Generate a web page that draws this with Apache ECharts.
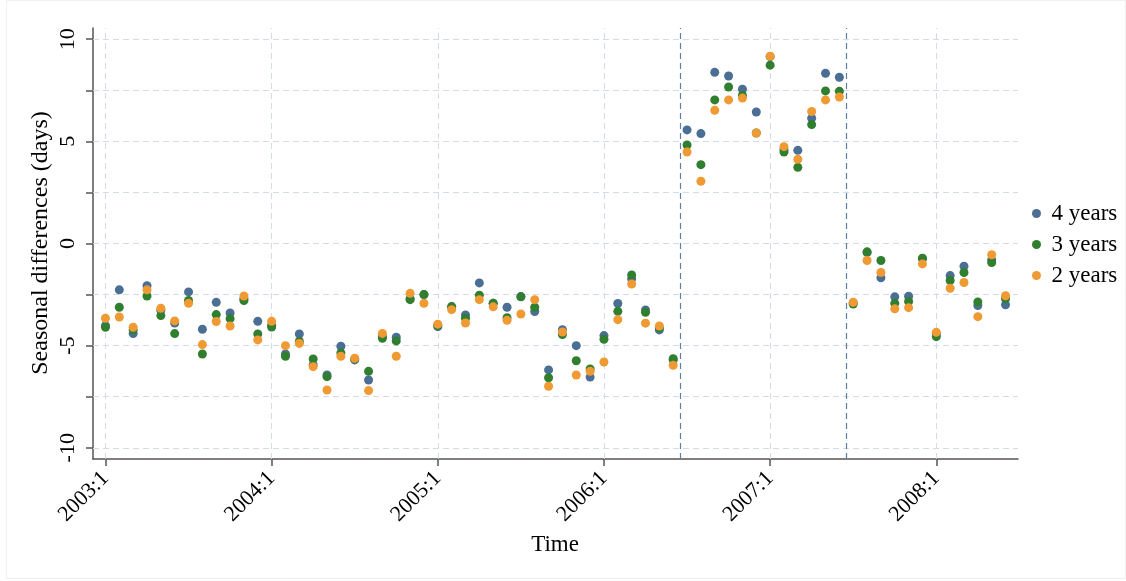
<!DOCTYPE html>
<html>
<head>
<meta charset="utf-8">
<script src="https://cdn.jsdelivr.net/npm/echarts@6/dist/echarts.min.js"></script>
<style>html,body{margin:0;padding:0;background:#fff}#c{width:1126px;height:581px}</style>
</head>
<body>
<div id="c"></div>
<script>
// Month index 0 = 2003:1 ... 65 = 2008:6
const seriesNames = ['4 years', '3 years', '2 years'];
const years4 = [-4.02,-2.27,-4.41,-2.07,-3.27,-3.89,-2.37,-4.2,-2.88,-3.4,-2.7,-3.81,
  -4.0,-5.41,-4.43,-5.93,-6.44,-5.03,-5.7,-6.68,-4.55,-4.59,-2.7,-2.5,
  -4.07,-3.1,-3.5,-1.93,-2.93,-3.12,-2.6,-3.33,-6.19,-4.22,-5.0,-6.54,
  -4.51,-2.94,-1.73,-3.25,-4.23,-5.7,5.56,5.38,8.38,8.2,7.55,6.44,
  9.15,4.6,4.56,6.13,8.33,8.14,-2.9,-0.45,-1.68,-2.61,-2.58,-0.75,
  -4.45,-1.57,-1.11,-3.04,-0.8,-3.0];
const years3 = [-4.1,-3.12,-4.23,-2.57,-3.53,-4.41,-2.79,-5.41,-3.48,-3.68,-2.79,-4.43,
  -4.09,-5.52,-4.8,-5.65,-6.52,-5.36,-5.65,-6.26,-4.64,-4.77,-2.75,-2.5,
  -4.0,-3.09,-3.66,-2.53,-2.93,-3.63,-2.61,-3.12,-6.57,-4.46,-5.74,-6.14,
  -4.69,-3.32,-1.54,-3.37,-4.13,-5.64,4.82,3.86,7.03,7.66,7.25,5.41,
  8.73,4.48,3.73,5.82,7.47,7.45,-2.96,-0.41,-0.83,-2.93,-2.84,-0.72,
  -4.56,-1.81,-1.42,-2.86,-0.93,-2.7];
const years2 = [-3.66,-3.6,-4.1,-2.27,-3.17,-3.79,-2.93,-4.95,-3.82,-4.04,-2.57,-4.72,
  -3.81,-5.0,-4.89,-6.03,-7.17,-5.52,-5.62,-7.2,-4.4,-5.52,-2.44,-2.93,
  -3.95,-3.24,-3.89,-2.75,-3.1,-3.76,-3.45,-2.75,-6.99,-4.33,-6.44,-6.26,
  -5.8,-3.73,-1.98,-3.9,-4.04,-5.96,4.48,3.05,6.52,7.03,7.12,5.41,
  9.17,4.74,4.12,6.46,7.03,7.17,-2.88,-0.83,-1.42,-3.2,-3.14,-1.0,
  -4.35,-2.19,-1.91,-3.58,-0.55,-2.56];
const xTickPositions = [0, 12, 24, 36, 48, 60];
const xTickLabels = ['2003:1', '2004:1', '2005:1', '2006:1', '2007:1', '2008:1'];
const yTicks = [-10, -7.5, -5, -2.5, 0, 2.5, 5, 7.5, 10];
const yLabels = [-10, -5, 0, 5, 10];
const breakLines = [41.5, 53.5];

const colors = ['#4a6e94', '#2f7f2f', '#ef9a33'];
const FONT = '"Liberation Serif", "DejaVu Serif", "Times New Roman", serif';

const toPairs = arr => arr.map((v, i) => [i, v]);
const seriesData = [years4, years3, years2];

const chart = echarts.init(document.getElementById('c'), null, {renderer: 'canvas'});

const gridLineStyle = {color: '#d3dbe6', type: [6, 4], width: 1};
const gridMarks = []
  .concat(yTicks.map(v => ({yAxis: v, lineStyle: gridLineStyle})))
  .concat(xTickPositions.map(v => ({xAxis: v, lineStyle: gridLineStyle})))
  .concat(breakLines.map(v => ({xAxis: v, lineStyle: {color: '#5d7fa3', type: [6, 4], width: 1.2}})));

const series = [{
  type: 'scatter',
  name: '_grid',
  data: [],
  z: 1,
  silent: true,
  markLine: {
    silent: true,
    z: 1,
    symbol: ['none', 'none'],
    label: {show: false},
    animation: false,
    data: gridMarks
  }
}].concat(seriesNames.map((n, k) => ({
  type: 'scatter',
  name: n,
  data: toPairs(seriesData[k]),
  symbol: 'circle',
  symbolSize: 9,
  z: 3 + k,
  itemStyle: {color: colors[k], opacity: 1},
  emphasis: {disabled: true}
})));

chart.setOption({
  animation: false,
  backgroundColor: '#ffffff',
  textStyle: {fontFamily: FONT},
  grid: {left: 93, right: 108, top: 28, bottom: 122, containLabel: false},
  xAxis: {
    type: 'value',
    min: -0.9,
    max: 65.9,
    axisLine: {show: true, onZero: false, lineStyle: {color: '#555555', width: 1.5}},
    axisTick: {show: true, length: 7, customValues: xTickPositions, lineStyle: {color: '#555555', width: 1.5}},
    axisLabel: {
      show: true,
      customValues: xTickPositions,
      rotate: 45,
      margin: 16,
      color: '#000',
      fontFamily: FONT,
      fontSize: 22,
      formatter: v => xTickLabels[xTickPositions.indexOf(Math.round(v))] || ''
    },
    splitLine: {show: false}
  },
  yAxis: {
    type: 'value',
    min: -10.55,
    max: 10.55,
    axisLine: {show: true, onZero: false, lineStyle: {color: '#555555', width: 1.5}},
    axisTick: {show: true, length: 7, customValues: yTicks, lineStyle: {color: '#555555', width: 1.5}},
    axisLabel: {
      show: true,
      customValues: yLabels,
      rotate: 90,
      margin: 14,
      color: '#000',
      fontFamily: FONT,
      fontSize: 22,
      formatter: v => String(v)
    },
    splitLine: {show: false}
  },
  legend: {
    orient: 'vertical',
    left: 1027,
    top: 197,
    itemWidth: 20,
    itemHeight: 9,
    itemGap: 8,
    icon: 'circle',
    data: seriesNames,
    textStyle: {fontFamily: FONT, fontSize: 23, color: '#000', lineHeight: 23},
    selectedMode: false
  },
  graphic: [
    {type: 'text', style: {text: 'Time', font: '23px ' + FONT, fill: '#000', textAlign: 'center', textVerticalAlign: 'middle'}, position: [555, 545]},
    {type: 'text', rotation: Math.PI / 2, position: [41, 243], style: {text: 'Seasonal differences (days)', font: '24px ' + FONT, fill: '#000', textAlign: 'center', textVerticalAlign: 'middle'}},
    {type: 'rect', shape: {x: 6.5, y: 0.5, width: 1119, height: 578}, style: {fill: 'none', stroke: '#efefef', lineWidth: 1}, z: -1}
  ],
  series: series
});
</script>
</body>
</html>
